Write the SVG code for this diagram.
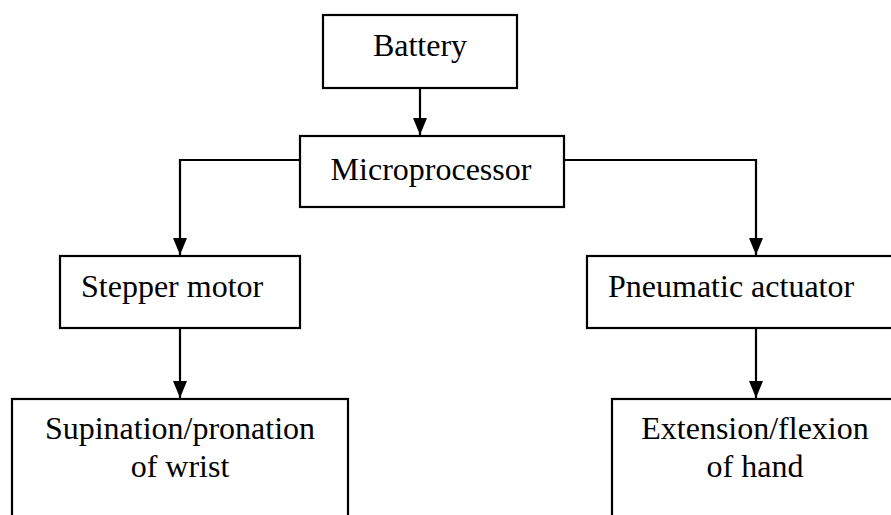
<svg xmlns="http://www.w3.org/2000/svg" width="891" height="515" viewBox="0 0 891 515">
<style>
.box{fill:#fff;stroke:#000;stroke-width:2.2}
.t{font-family:"Liberation Serif","Times New Roman",serif;font-size:32px;fill:#000}
.c{text-anchor:middle}
.conn{fill:none;stroke:#000;stroke-width:2.2}
</style>
<defs>
<marker id="ah" markerUnits="userSpaceOnUse" markerWidth="18" markerHeight="14" refX="17" refY="7" orient="auto" viewBox="0 0 18 14">
<path d="M0,0 L17,7 L0,14 Z" fill="#000"/>
</marker>
</defs>
<g id="connectors">
<line class="conn" x1="420" y1="88" x2="420" y2="135" marker-end="url(#ah)"/>
<polyline class="conn" points="300,160 180,160 180,255" marker-end="url(#ah)"/>
<polyline class="conn" points="564,160 756,160 756,255" marker-end="url(#ah)"/>
<line class="conn" x1="180" y1="328" x2="180" y2="398" marker-end="url(#ah)"/>
<line class="conn" x1="756" y1="328" x2="756" y2="398" marker-end="url(#ah)"/>
</g>
<g id="battery">
<rect class="box" x="323" y="15" width="194" height="73"/>
<text class="t c" x="420" y="56">Battery</text>
</g>
<g id="microprocessor">
<rect class="box" x="300" y="136" width="264" height="71"/>
<text class="t c" x="431" y="180">Microprocessor</text>
</g>
<g id="stepper">
<rect class="box" x="60" y="256" width="240" height="72"/>
<text class="t" x="81" y="297">Stepper motor</text>
</g>
<g id="pneumatic">
<rect class="box" x="587" y="256" width="320" height="72"/>
<text class="t" x="608" y="297">Pneumatic actuator</text>
</g>
<g id="supination">
<rect class="box" x="12" y="399" width="336" height="130"/>
<text class="t c" x="180" y="439">Supination/pronation</text>
<text class="t c" x="180" y="477">of wrist</text>
</g>
<g id="extension">
<rect class="box" x="612" y="399" width="300" height="130"/>
<text class="t c" x="755" y="439">Extension/flexion</text>
<text class="t c" x="755" y="477">of hand</text>
</g>
</svg>
